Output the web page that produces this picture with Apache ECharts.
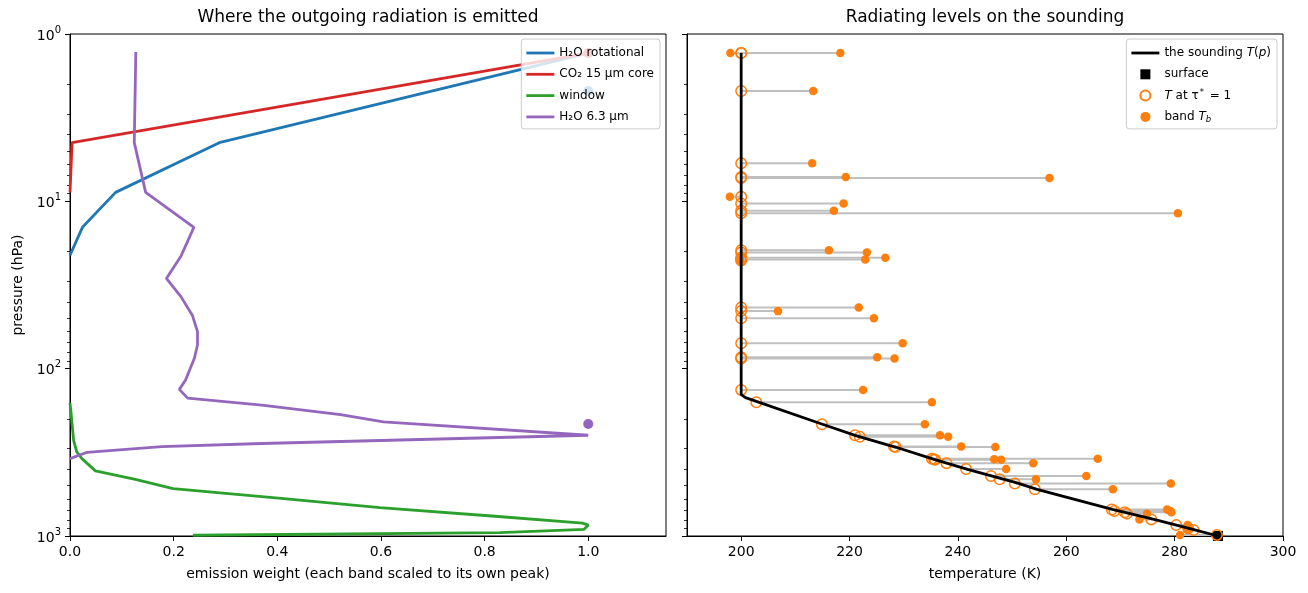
<!DOCTYPE html>
<html>
<head>
<meta charset="utf-8">
<script src="https://cdn.jsdelivr.net/npm/echarts@6/dist/echarts.min.js"></script>
<style>
html, body { margin: 0; padding: 0; background: #fff; }
#chart { width: 1308px; height: 593px; }
</style>
</head>
<body>
<div id="chart"></div>
<script>
// left panel: emission weight profiles (weight, pressure hPa)
// the long zero tails sit under the left spine in the picture, so they stop where they reach 0
var rotP = [1.3, 4.46, 8.84, 14.3, 21];
var rotW = [1.0, 0.288, 0.088, 0.024, 0.0];

var co2P = [1.3, 4.46, 8.84];
var co2W = [1.0, 0.004, 0.0];

var winP = [160, 184, 268, 314, 345, 408, 459, 521, 594, 676, 762, 837, 861, 912, 955, 990];
var winW = [0.0, 0.002, 0.007, 0.013, 0.023, 0.049, 0.126, 0.199, 0.402, 0.598, 0.82, 0.989, 1.0, 0.992, 0.83, 0.237];

var h63P = [1.28, 4.46, 8.84, 14.3, 21.3, 28.9, 37.1, 47.9, 60.1, 72.2, 86.6, 117, 133, 150, 165, 188, 208, 250, 280, 292, 316, 345];
var h63W = [0.127, 0.124, 0.146, 0.239, 0.214, 0.186, 0.214, 0.236, 0.246, 0.246, 0.240, 0.223, 0.211, 0.227, 0.37, 0.522, 0.605, 1.0, 0.37, 0.177, 0.033, 0.0];

// marker at weight 1 for each band (pressure of tau*=1)
var peakP = { rot: 2.19, co2: 1.30, h63: 214 };

// right panel: sounding T(p)
var sndP = [1.3, 143, 149, 215, 252, 295, 348, 400, 481, 526, 693, 796, 922, 1000];
var sndT = [200, 200, 200.8, 215.0, 221.3, 228.6, 235.6, 241.8, 250.9, 254.6, 268.5, 276.2, 283.9, 288];
var surfT = 288, surfP = 1000;

// rows: pressure, T at tau*=1, band brightness temperature
var rowP  = [1.30, 1.30, 2.19, 5.93, 7.15, 7.25, 9.4, 10.3, 11.4, 11.8,
             19.6, 20.2, 21.7, 22.3, 22.6, 43.1, 45.3, 50.0, 70.5, 85.5, 87.0, 134,
             159, 215, 250, 255, 292, 294, 345, 348, 350, 367, 398, 438, 458, 486, 526,
             694, 708, 722, 735, 796, 861, 900, 921, 985];
var rowTc = [200, 200, 200, 200, 200, 200, 200, 200, 200, 200,
             200, 200, 200, 200, 200, 200, 200, 200, 200, 200, 200, 200,
             202.8, 214.9, 221.0, 221.9, 228.2, 228.5, 235.2, 235.6, 235.8, 237.9, 241.5, 246.1, 247.7, 250.5, 254.2,
             268.4, 268.9, 270.8, 271.2, 275.7, 280.3, 282.5, 283.5, 287.8];
var rowTb = [218.3, 198.0, 213.3, 213.1, 219.3, 256.9, 197.9, 218.9, 217.1, 280.6,
             216.2, 223.2, 226.6, 222.9, 199.8, 221.7, 206.8, 224.5, 229.8, 225.1, 228.3, 222.5,
             235.2, 233.9, 236.7, 238.2, 240.6, 246.9, 265.8, 246.7, 248.0, 253.9, 248.9, 263.7, 254.4, 279.3, 268.6,
             278.6, 279.2, 279.4, 274.9, 273.5, 282.4, 282.6, 282.4, 281.0];

var weightTicks = [0, 0.2, 0.4, 0.6, 0.8, 1.0];
var tempTicks = [200, 220, 240, 260, 280, 300];
var pMajor = [1, 10, 100, 1000];
var pMinor = [];
for (var d = 1; d < 1000; d *= 10) {
	for (var m = 2; m <= 9; m++) pMinor.push(m * d);
}

var FONT = 'DejaVu Sans';
var C = { blue: '#1f77b4', red: '#d62728', green: '#2ca02c', purple: '#9467bd', orange: '#ff7f0e' };
var LINE_ICON = 'path://M0,0H28V2.8H0Z';
var SQUARE_ICON = 'path://M0,0H9V9H0Z';

function zip(xs, ys){
	var out = [];
	for (var i = 0; i < xs.length; i++) out.push([xs[i], ys[i]]);
	return out;
}

function majorY(grid, labels){
	return {
		gridIndex: grid, type: 'log', logBase: 10, min: 1, max: 1000, inverse: true, position: 'left',
		name: labels ? 'pressure (hPa)' : '', nameLocation: 'middle', nameGap: 45, nameRotate: 90,
		nameTextStyle: { fontFamily: FONT, fontSize: 14, color: '#000' },
		axisLine: { show: true, lineStyle: { color: '#000', width: 1 } },
		axisTick: { show: true, customValues: pMajor, length: 5, inside: false, lineStyle: { color: '#000', width: 1 } },
		axisLabel: {
			show: labels, customValues: pMajor, margin: 9,
			formatter: function(v){ return '{b|10}{s|' + Math.round(Math.log10(v)) + '}'; },
			rich: {
				b: { fontFamily: FONT, fontSize: 14, color: '#000', lineHeight: 18, verticalAlign: 'bottom' },
				s: { fontFamily: FONT, fontSize: 10, color: '#000', lineHeight: 18, verticalAlign: 'top' }
			}
		},
		splitLine: { show: false }, minorTick: { show: false }
	};
}
function minorY(grid){
	return {
		gridIndex: grid, type: 'log', logBase: 10, min: 1, max: 1000, inverse: true, position: 'left',
		axisLine: { show: false },
		axisTick: { show: true, customValues: pMinor, length: 3, lineStyle: { color: '#000', width: 0.8 } },
		axisLabel: { show: false }, splitLine: { show: false }
	};
}
function xAxisOf(grid, min, max, ticks, name, fmt){
	return {
		gridIndex: grid, type: 'value', min: min, max: max, position: 'bottom',
		name: name, nameLocation: 'middle', nameGap: 31,
		nameTextStyle: { fontFamily: FONT, fontSize: 14, color: '#000' },
		axisLine: { show: true, onZero: false, lineStyle: { color: '#000', width: 1 } },
		axisTick: { show: true, customValues: ticks, length: 5, lineStyle: { color: '#000', width: 1 } },
		axisLabel: { customValues: ticks, margin: 9, formatter: fmt, fontFamily: FONT, fontSize: 14, color: '#000' },
		splitLine: { show: false }
	};
}

function lineSeries(name, w, p, color){
	return {
		name: name, type: 'line', xAxisIndex: 0, yAxisIndex: 0, data: zip(w, p),
		symbol: 'none', clip: true, lineStyle: { color: color, width: 2.8 }, itemStyle: { color: color, opacity: 1 },
		animation: false, silent: true
	};
}
function peakDot(name, p, color){
	return {
		name: name, type: 'scatter', xAxisIndex: 0, yAxisIndex: 0, data: [[1.0, p]],
		symbol: 'circle', symbolSize: 10, itemStyle: { color: color, opacity: 1 }, animation: false, silent: true
	};
}

var legendBase = {
	orient: 'vertical', top: 39, itemWidth: 28, itemHeight: 10, itemGap: 7.3,
	padding: [7, 6, 5, 5], backgroundColor: 'rgba(255,255,255,0.8)',
	borderColor: '#cccccc', borderWidth: 1, borderRadius: 3, selectedMode: false,
	textStyle: { fontFamily: FONT, fontSize: 12, color: '#000', lineHeight: 14 }
};

var rightNames = {
	sounding: '{t|the sounding }{i|T}{t|(}{i|p}{t|)}',
	surface: '{t|surface}',
	tau: '{i|T}{t| at τ}{u|*}{t| = 1}',
	tb: '{t|band }{i|T}{d|b}'
};
var legRich = {
	t: { fontFamily: FONT, fontSize: 12, color: '#000', lineHeight: 14 },
	i: { fontFamily: FONT, fontSize: 12, fontStyle: 'italic', color: '#000', lineHeight: 14 },
	u: { fontFamily: FONT, fontSize: 8.5, color: '#000', lineHeight: 14, verticalAlign: 'top', padding: [0, 2, 0, 1] },
	d: { fontFamily: FONT, fontSize: 8.5, fontStyle: 'italic', color: '#000', lineHeight: 14, verticalAlign: 'bottom', padding: [5, 0, 0, 0] }
};

var option = {
	backgroundColor: '#fff',
	animation: false,
	title: [
		{ text: 'Where the outgoing radiation is emitted', left: 368, top: 9, textAlign: 'center', padding: 0,
		  textStyle: { fontFamily: FONT, fontSize: 17, fontWeight: 'normal', color: '#000' } },
		{ text: 'Radiating levels on the sounding', left: 985, top: 9, textAlign: 'center', padding: 0,
		  textStyle: { fontFamily: FONT, fontSize: 17, fontWeight: 'normal', color: '#000' } }
	],
	grid: [
		{ left: 70, top: 34, width: 596, height: 502, show: true, borderColor: '#000', borderWidth: 1, outerBoundsMode: 'none', containLabel: false },
		{ left: 687, top: 34, width: 596, height: 502, show: true, borderColor: '#000', borderWidth: 1, outerBoundsMode: 'none', containLabel: false }
	],
	legend: [
		Object.assign({}, legendBase, {
			right: 648,
			data: [
				{ name: 'H₂O rotational', icon: LINE_ICON },
				{ name: 'CO₂ 15 µm core', icon: LINE_ICON },
				{ name: 'window', icon: LINE_ICON },
				{ name: 'H₂O 6.3 µm', icon: LINE_ICON }
			]
		}),
		Object.assign({}, legendBase, {
			right: 31,
			data: [
				{ name: 'sounding', icon: LINE_ICON },
				{ name: 'surface', icon: SQUARE_ICON },
				{ name: 'tau' },
				{ name: 'tb' }
			],
			formatter: function(n){ return rightNames[n]; },
			textStyle: { fontFamily: FONT, fontSize: 12, color: '#000', lineHeight: 14, rich: legRich }
		})
	],
	xAxis: [
		xAxisOf(0, 0, 1.15, weightTicks, 'emission weight (each band scaled to its own peak)', function(v){ return v.toFixed(1); }),
		xAxisOf(1, 190, 300, tempTicks, 'temperature (K)', function(v){ return String(v); })
	],
	yAxis: [majorY(0, true), minorY(0), majorY(1, false), minorY(1)],
	series: [
		lineSeries('H₂O rotational', rotW, rotP, C.blue),
		lineSeries('CO₂ 15 µm core', co2W, co2P, C.red),
		lineSeries('window', winW, winP, C.green),
		lineSeries('H₂O 6.3 µm', h63W, h63P, C.purple),
		peakDot('rot peak', peakP.rot, C.blue),
		peakDot('co2 peak', peakP.co2, C.red),
		peakDot('h63 peak', peakP.h63, C.purple),
		{
			name: 'connectors', type: 'custom', xAxisIndex: 1, yAxisIndex: 2, silent: true, clip: true,
			data: rowP.map(function(p, i){ return [rowTc[i], rowTb[i], p]; }),
			encode: { x: [0, 1], y: 2 },
			renderItem: function(params, api){
				var a = api.coord([api.value(0), api.value(2)]);
				var b = api.coord([api.value(1), api.value(2)]);
				return { type: 'line', shape: { x1: a[0], y1: a[1], x2: b[0], y2: b[1] },
					style: { stroke: '#bfbfbf', lineWidth: 2 } };
			}
		},
		{
			name: 'sounding', type: 'line', xAxisIndex: 1, yAxisIndex: 2, data: zip(sndT, sndP),
			symbol: 'none', lineStyle: { color: '#000', width: 2.8 }, itemStyle: { color: '#000', opacity: 1 }, silent: true
		},
		{
			name: 'surface', type: 'scatter', xAxisIndex: 1, yAxisIndex: 2, data: [[surfT, surfP]],
			symbol: 'rect', symbolSize: 10, itemStyle: { color: '#000', opacity: 1 }, silent: true
		},
		{
			name: 'tau', type: 'scatter', xAxisIndex: 1, yAxisIndex: 2, data: zip(rowTc, rowP),
			symbol: 'circle', symbolSize: 10.5,
			itemStyle: { color: 'rgba(255,255,255,0)', borderColor: C.orange, borderWidth: 1.5, opacity: 1 }, silent: true
		},
		{
			name: 'tb', type: 'scatter', xAxisIndex: 1, yAxisIndex: 2, data: zip(rowTb, rowP),
			symbol: 'circle', symbolSize: 8.5, itemStyle: { color: C.orange, opacity: 1 }, silent: true
		}
	]
};

var myChart = echarts.init(document.getElementById('chart'), null, { renderer: 'canvas' });
myChart.setOption(option);
</script>
</body>
</html>
